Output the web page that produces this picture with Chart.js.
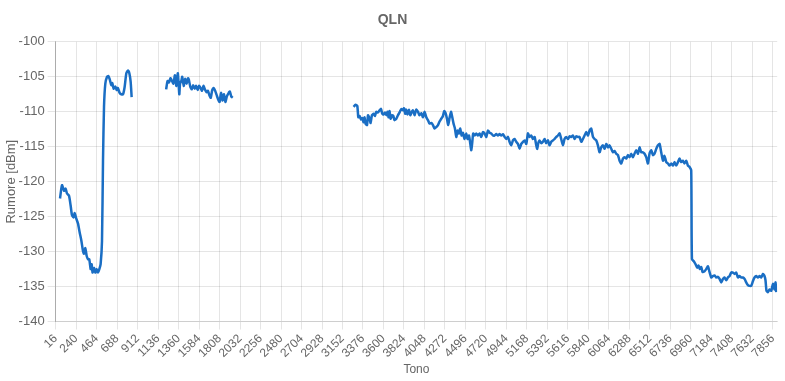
<!DOCTYPE html>
<html>
<head>
<meta charset="utf-8">
<script src="https://cdn.jsdelivr.net/npm/chart.js@4.4.1/dist/chart.umd.min.js"></script>
<style>
  body { margin: 0; background: #fff; }
  #wrap { width: 785px; height: 381px; position: relative; }
</style>
</head>
<body>
<div id="wrap"><canvas id="qlnChart"></canvas></div>
<script>
// X axis tick labels (tone index)
const tickTones = [16, 240, 464, 688, 912, 1136, 1360, 1584, 1808, 2032, 2256, 2480, 2704, 2928,
  3152, 3376, 3600, 3824, 4048, 4272, 4496, 4720, 4944, 5168, 5392, 5616, 5840, 6064, 6288,
  6512, 6736, 6960, 7184, 7408, 7632, 7856];

// Tones and QLN values (dBm), null = no data (gap in the line)
const tones = [
  64, 86, 108, 125, 141, 162, 180, 195, 213, 224, 242, 261, 278, 297, 315, 326, 341, 355, 370, 384,
  399, 410, 420, 436, 450, 464, 479, 494, 508, 523, 534, 545, 559, 578, 592, 606, 625, 636, 650, 669,
  683, 696, 716, 734, 753, 770, 789, 807, 822, 836, 847,
  1000,
  1224, 1240, 1256, 1272, 1288, 1304, 1312, 1320, 1336, 1352, 1368, 1376, 1392, 1400, 1416, 1432, 1448, 1464, 1472, 1488,
  1504, 1520, 1536, 1552, 1568, 1584, 1600, 1616, 1632, 1648, 1664, 1680, 1696, 1712, 1728, 1744, 1760, 1776, 1792, 1808,
  1824, 1840, 1856, 1872, 1888, 1904, 1920, 1936, 1952,
  2600,
  3273, 3295, 3314, 3325, 3339, 3354, 3368, 3382, 3393, 3404, 3420, 3431, 3448, 3459, 3474, 3492, 3507, 3521, 3540, 3557,
  3573, 3587, 3601, 3616, 3631, 3645, 3656, 3667, 3678, 3693, 3707, 3721, 3740, 3758, 3776, 3795, 3813, 3824, 3838, 3849,
  3863, 3879, 3893, 3907, 3922, 3940, 3958, 3977, 3994, 4013, 4032, 4049, 4068, 4086, 4104, 4122, 4141, 4158, 4177, 4196,
  4213, 4232, 4250, 4264, 4279, 4294, 4308, 4322, 4338, 4352, 4366, 4381, 4396, 4410, 4425, 4439, 4454, 4469, 4486, 4505,
  4519, 4535, 4549, 4560, 4571, 4581, 4598, 4614, 4633, 4650, 4669, 4687, 4705, 4724, 4742, 4760, 4778, 4797, 4814, 4833,
  4851, 4869, 4887, 4906, 4924, 4942, 4961, 4978, 4997, 5015, 5033, 5051, 5070, 5088, 5106, 5125, 5142, 5161, 5179, 5197,
  5215, 5234, 5252, 5270, 5281, 5292, 5306, 5325, 5343, 5361, 5379, 5398, 5415, 5434, 5453, 5470, 5489, 5507, 5525, 5543,
  5562, 5579, 5598, 5617, 5634, 5653, 5671, 5689, 5707, 5726, 5743, 5762, 5780, 5798, 5817, 5835, 5853, 5871, 5890, 5907,
  5926, 5944, 5962, 5980, 5999, 6017, 6035, 6054, 6071, 6090, 6108, 6126, 6144, 6163, 6181, 6199, 6218, 6235, 6254, 6272,
  6290, 6308, 6327, 6344, 6363, 6382, 6399, 6418, 6436, 6454, 6472, 6491, 6508, 6527, 6546, 6563, 6582, 6600, 6618, 6636,
  6655, 6672, 6691, 6710, 6727, 6746, 6764, 6782, 6800, 6819, 6836, 6855, 6873, 6891, 6910, 6928, 6946, 6964, 6972, 6994,
  7011, 7030, 7044, 7059, 7074, 7088, 7110, 7128, 7147, 7164, 7183, 7201, 7219, 7237, 7256, 7274, 7292, 7311, 7328, 7347,
  7365, 7383, 7401, 7420, 7438, 7456, 7475, 7492, 7511, 7529, 7547, 7565, 7584, 7601, 7620, 7639, 7656, 7675, 7693, 7711,
  7729, 7748, 7765, 7776, 7787, 7803, 7820, 7839, 7857, 7875, 7886, 7893
];

const qln = [
  -122.4, -120.5, -121.3, -121.0, -121.7, -122.0, -123.4, -124.8, -125.1, -124.5, -125.3, -126.0, -127.2, -128.4, -129.9, -130.3, -129.5, -130.6, -131.1, -131.1,
  -132.5, -131.8, -133.0, -132.3, -133.0, -132.5, -133.0, -132.5, -131.8, -128.5, -117.0, -109.3, -106.0, -105.0, -104.9, -105.3, -106.2, -105.9, -106.7, -106.4,
  -106.9, -106.6, -107.3, -107.5, -107.5, -106.5, -104.5, -104.1, -104.5, -105.7, -107.9,
  null,
  -106.8, -105.6, -105.8, -105.2, -105.6, -106.0, -105.4, -104.8, -106.3, -104.5, -107.5, -106.0, -105.5, -105.0, -106.3, -105.3, -106.0, -105.2, -105.4, -106.4,
  -106.8, -106.2, -106.7, -106.3, -106.9, -106.3, -106.6, -107.0, -106.3, -106.8, -107.2, -107.0, -107.6, -108.0, -106.9, -106.6, -107.0, -107.6, -108.2, -108.6,
  -107.3, -108.4, -107.5, -108.6, -107.8, -107.4, -107.1, -107.8, -108.0,
  null,
  -109.3, -109.0, -109.2, -110.8, -110.6, -111.1, -110.9, -111.5, -110.8, -111.7, -111.9, -110.5, -111.0, -111.6, -110.5, -110.3, -110.6, -110.0, -110.1, -109.8,
  -109.6, -110.3, -110.4, -110.1, -110.5, -110.0, -110.8, -109.9, -111.0, -110.5, -110.6, -111.2, -111.0, -110.5, -110.1, -109.6, -109.8, -109.5, -110.3, -109.7,
  -110.4, -109.7, -110.5, -110.1, -109.8, -110.5, -109.7, -110.0, -110.5, -110.2, -110.8, -110.0, -110.8, -111.2, -111.7, -111.6, -111.9, -112.4, -112.2, -111.9,
  -111.4, -111.0, -110.6, -109.9, -110.2, -111.0, -111.9, -110.9, -110.0, -110.8, -111.7, -112.4, -113.6, -112.7, -113.1, -112.4, -113.4, -113.0, -113.9, -113.1,
  -113.9, -113.4, -114.6, -115.5, -114.3, -113.1, -113.4, -113.1, -113.4, -113.1, -113.6, -112.9, -113.1, -113.6, -112.7, -113.0, -113.1, -113.4, -113.4, -113.2,
  -113.4, -113.2, -113.4, -113.2, -113.6, -113.9, -113.6, -114.3, -114.8, -114.1, -113.9, -114.3, -114.6, -115.3, -114.6, -114.3, -114.1, -114.6, -113.1, -113.6,
  -113.4, -113.9, -113.6, -114.8, -115.3, -114.5, -114.1, -114.5, -114.3, -113.9, -114.5, -114.1, -114.8, -114.3, -114.1, -113.9, -113.6, -113.4, -113.1, -113.9,
  -114.8, -113.9, -113.6, -113.9, -113.5, -113.6, -113.4, -113.9, -113.5, -113.6, -113.6, -114.3, -113.9, -113.4, -112.9, -113.4, -112.7, -112.4, -113.6, -113.9,
  -114.1, -114.8, -115.8, -115.1, -114.8, -115.3, -114.6, -115.1, -114.8, -115.3, -115.8, -115.6, -116.0, -116.2, -117.0, -117.4, -116.7, -116.5, -116.7, -116.2,
  -116.5, -116.0, -116.5, -116.0, -115.5, -116.0, -115.1, -115.8, -115.8, -116.0, -116.5, -117.4, -116.0, -115.5, -116.2, -116.0, -115.3, -114.8, -114.6, -115.8,
  -117.0, -116.3, -117.2, -117.4, -117.7, -117.4, -117.7, -117.2, -117.7, -117.2, -116.7, -117.2, -117.0, -117.4, -117.0, -117.7, -117.9, -118.4, -131.1, -131.4,
  -131.8, -132.3, -132.0, -132.5, -132.2, -132.9, -132.8, -132.5, -132.1, -132.9, -133.7, -133.5, -133.4, -133.7, -133.6, -133.9, -134.4, -133.9, -133.7, -134.1,
  -133.7, -133.5, -133.0, -133.0, -133.2, -133.0, -133.7, -133.5, -133.7, -133.7, -133.9, -134.4, -134.8, -134.9, -134.9, -134.2, -133.7, -133.5, -133.7, -133.5,
  -133.7, -133.2, -133.5, -134.1, -135.6, -135.8, -135.4, -135.6, -134.6, -135.4, -134.4, -135.8
];

const points = tones.map((t, i) => ({ x: t, y: qln[i] }));

const fontFamily = "Arial, 'Liberation Sans', sans-serif";

const ctx = document.getElementById("qlnChart").getContext("2d");
const qlnChart = new Chart(ctx, {
  type: "line",
  data: {
    datasets: [
      {
        label: "QLN",
        data: points,
        borderColor: "#1a6ec4",
        backgroundColor: "#1a6ec4",
        borderWidth: 2.5,
        pointRadius: 0,
        fill: false,
        tension: 0.2,
        spanGaps: false,
      },
    ],
  },
  options: {
    responsive: true,
    maintainAspectRatio: false,
    animation: false,
    plugins: {
      legend: { display: false },
      tooltip: { enabled: false },
      title: {
        display: true,
        text: "QLN",
        color: "#666",
        font: { family: fontFamily, size: 14, weight: "bold" },
        padding: { top: 12, bottom: 13 },
      },
    },
    scales: {
      x: {
        type: "linear",
        min: 16,
        max: 7904,
        afterBuildTicks: (axis) => {
          axis.ticks = tickTones.map((v) => ({ value: v }));
        },
        ticks: {
          color: "#666",
          font: { family: fontFamily, size: 12 },
          minRotation: 45,
          maxRotation: 45,
          autoSkip: false,
          padding: 2,
          callback: (v) => String(v),
        },
        grid: { color: "rgba(0,0,0,0.1)" },
        title: {
          display: true,
          text: "Tono",
          color: "#666",
          font: { family: fontFamily, size: 12 },
          padding: { top: 0, bottom: 4 },
        },
      },
      y: {
        min: -140,
        max: -100,
        ticks: {
          stepSize: 5,
          color: "#666",
          font: { family: fontFamily, size: 13 },
        },
        grid: { color: "rgba(0,0,0,0.1)" },
        border: { color: "rgba(0,0,0,0.25)" },
        title: {
          display: true,
          text: "Rumore [dBm]",
          color: "#666",
          font: { family: fontFamily, size: 13 },
          padding: { top: 4, bottom: -4 },
        },
      },
    },
  },
});
</script>
</body>
</html>
